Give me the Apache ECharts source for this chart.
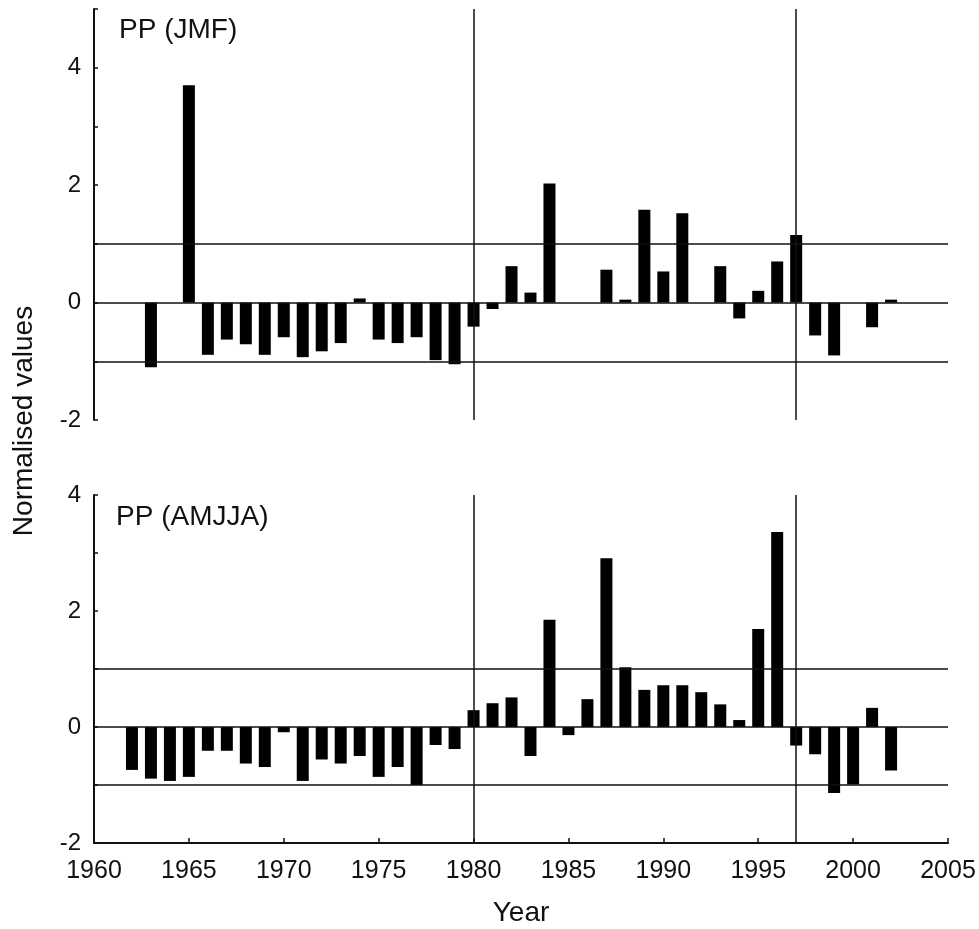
<!DOCTYPE html>
<html>
<head>
<meta charset="utf-8">
<title>PP normalised values</title>
<script src="https://cdn.jsdelivr.net/npm/echarts@6/dist/echarts.min.js"></script>
<style>
    html, body { margin: 0; padding: 0; background: #fff; }
    #main { width: 979px; height: 929px; }
</style>
</head>
<body>
<div id="main"></div>
<script>
var years = [1962, 1963, 1964, 1965, 1966, 1967, 1968, 1969, 1970, 1971,
    1972, 1973, 1974, 1975, 1976, 1977, 1978, 1979, 1980, 1981,
    1982, 1983, 1984, 1985, 1986, 1987, 1988, 1989, 1990, 1991,
    1992, 1993, 1994, 1995, 1996, 1997, 1998, 1999, 2000, 2001, 2002];

// PP (JMF) - null where no bar is drawn
var jmfValues = [null, -1.10, null, 3.70, -0.89, -0.63, -0.71, -0.89, -0.59, -0.93,
    -0.83, -0.69, 0.07, -0.63, -0.69, -0.59, -0.98, -1.05, -0.41, -0.11,
    0.62, 0.17, 2.03, null, null, 0.56, 0.05, 1.58, 0.53, 1.52,
    null, 0.62, -0.27, 0.20, 0.70, 1.15, -0.56, -0.90, null, -0.42, 0.05];

// PP (AMJJA)
var amjjaValues = [-0.74, -0.89, -0.93, -0.86, -0.41, -0.41, -0.63, -0.69, -0.09, -0.93,
    -0.56, -0.63, -0.50, -0.86, -0.69, -1.00, -0.31, -0.38, 0.29, 0.41,
    0.51, -0.50, 1.85, -0.14, 0.48, 2.91, 1.03, 0.64, 0.72, 0.72,
    0.60, 0.39, 0.12, 1.69, 3.36, -0.32, -0.47, -1.14, -0.99, 0.33, -0.75];

var refLevels = [-1, 0, 1];       // horizontal lines
var breakYears = [1980, 1997];    // vertical lines
var yTickLabels = [-2, 0, 2, 4];

var font = 'Liberation Sans, Arial, sans-serif';
var ink = '#111';

function pairs(vals) {
    var out = [];
    for (var i = 0; i < years.length; i++) {
        if (vals[i] !== null) out.push([years[i], vals[i]]);
    }
    return out;
}

function refLines() {
    var d = [];
    refLevels.forEach(function (v) { d.push({yAxis: v}); });
    breakYears.forEach(function (y) { d.push({xAxis: y}); });
    return d;
}

function yAxisOpt(idx, min, max) {
    return {
        type: 'value',
        gridIndex: idx,
        min: min,
        max: max,
        interval: 1,
        splitLine: {show: false},
        axisLine: {show: true, onZero: false, lineStyle: {color: ink, width: 2}},
        axisTick: {show: true, inside: true, length: 4, lineStyle: {color: ink, width: 1.5}},
        axisLabel: {
            fontFamily: font,
            fontSize: 24,
            color: ink,
            margin: 13,
            formatter: function (v) {
                return yTickLabels.indexOf(v) >= 0 ? String(v) : '';
            }
        }
    };
}

var option = {
    backgroundColor: '#fff',
    animation: false,
    title: [
        {
            text: 'PP (JMF)',
            left: 119,
            top: 16,
            padding: 0,
            textStyle: {fontFamily: font, fontSize: 28, fontWeight: 'normal', color: ink}
        },
        {
            text: 'PP (AMJJA)',
            left: 116,
            top: 503,
            padding: 0,
            textStyle: {fontFamily: font, fontSize: 28, fontWeight: 'normal', color: ink}
        }
    ],
    graphic: [
        {
            type: 'text',
            x: 24,
            y: 421,
            rotation: Math.PI / 2,
            style: {
                text: 'Normalised values',
                fontFamily: font,
                fontSize: 28,
                fill: ink,
                textAlign: 'center',
                textVerticalAlign: 'middle'
            }
        }
    ],
    grid: [
        {left: 94, top: 9, width: 854, height: 411},
        {left: 94, top: 495, width: 854, height: 348}
    ],
    xAxis: [
        {
            type: 'value',
            gridIndex: 0,
            min: 1960,
            max: 2005,
            interval: 5,
            show: false
        },
        {
            type: 'value',
            gridIndex: 1,
            min: 1960,
            max: 2005,
            interval: 5,
            splitLine: {show: false},
            axisLine: {show: true, onZero: false, lineStyle: {color: ink, width: 2}},
            axisTick: {show: true, inside: true, length: 5, lineStyle: {color: ink, width: 1.5}},
            axisLabel: {
                fontFamily: font,
                fontSize: 25,
                color: ink,
                margin: 16,
                formatter: function (v) { return String(v); }
            },
            name: 'Year',
            nameLocation: 'middle',
            nameGap: 56,
            nameTextStyle: {fontFamily: font, fontSize: 28, color: ink}
        }
    ],
    yAxis: [
        yAxisOpt(0, -2, 5),
        yAxisOpt(1, -2, 4)
    ],
    series: [
        {
            name: 'PP (JMF)',
            type: 'bar',
            xAxisIndex: 0,
            yAxisIndex: 0,
            barWidth: 12,
            itemStyle: {color: '#000'},
            data: pairs(jmfValues),
            markLine: {
                silent: true,
                symbol: 'none',
                label: {show: false},
                lineStyle: {color: ink, width: 1.5, type: 'solid'},
                data: refLines()
            }
        },
        {
            name: 'PP (AMJJA)',
            type: 'bar',
            xAxisIndex: 1,
            yAxisIndex: 1,
            barWidth: 12,
            itemStyle: {color: '#000'},
            data: pairs(amjjaValues),
            markLine: {
                silent: true,
                symbol: 'none',
                label: {show: false},
                lineStyle: {color: ink, width: 1.5, type: 'solid'},
                data: refLines()
            }
        }
    ]
};

var myChart = echarts.init(document.getElementById('main'));
myChart.setOption(option);
</script>
</body>
</html>
